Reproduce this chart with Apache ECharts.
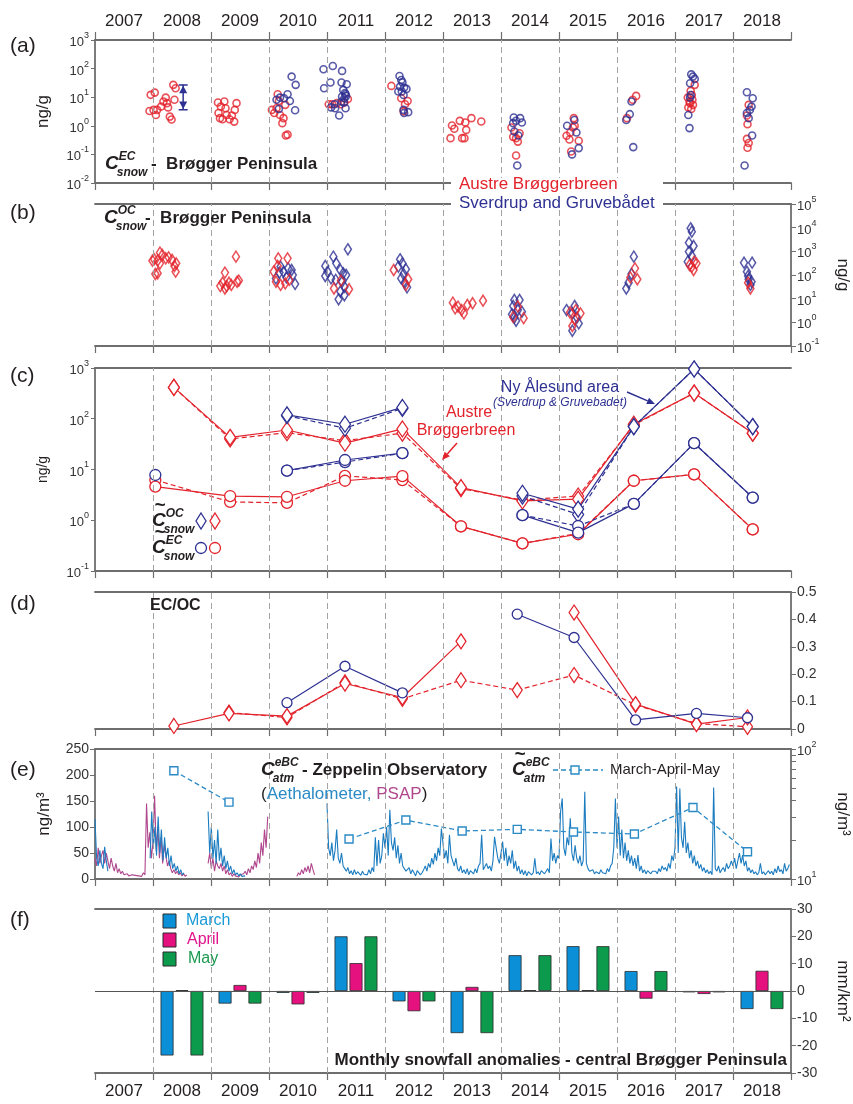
<!DOCTYPE html>
<html><head><meta charset="utf-8">
<script src="https://cdn.jsdelivr.net/npm/echarts@6/dist/echarts.min.js"></script>
<style>html,body{margin:0;padding:0;background:#fff}#c{width:853px;height:1104px}</style>
</head><body><div id="c"></div>
<script>
const FONT = "'Liberation Sans Narrow','Liberation Sans',Arial,sans-serif";
const C_RED = '#e3232c', C_BLUE = '#2e3192', C_AETH = '#1c7cc0', C_PSAP = '#b0478d', C_MAM = '#2a8ac6';
const AXIS = '#6e6e6e', TXT = '#231f20', DASH = '#a3a3a3';

// ---------- shared ----------
const years = ['2007','2008','2009','2010','2011','2012','2013','2014','2015','2016','2017','2018'];
const boundaries = [2008,2009,2010,2011,2012,2013,2014,2015,2016,2017,2018];

// ---------- (a) C_EC snow ----------
const aRed = [[2007.96,12.1],[2008.03,14.5],[2007.94,3.3],[2008.01,3.6],[2008.05,2.4],[2008.07,3.6],[2008.14,4.7],[2008.18,7.1],[2008.22,9.7],[2008.24,6.2],[2008.26,4.4],[2008.29,2.1],[2008.32,1.66],[2008.35,27],[2008.39,20.6],[2008.37,8.1],
 [2009.12,6.5],[2009.17,4.7],[2009.23,7.1],[2009.25,4.1],[2009.13,2.8],[2009.20,1.7],[2009.155,1.85],[2009.27,2.4],[2009.32,1.7],[2009.36,2.3],[2009.40,1.4],[2009.41,3.6],[2009.44,6.2],
 [2010.15,12.7],[2010.05,3.6],[2010.09,2.8],[2010.13,4.1],[2010.17,7.4],[2010.19,2.4],[2010.25,1.85],[2010.23,1.24],[2010.28,5.4],[2010.29,0.46],[2010.32,0.49],
 [2011.03,5.7],[2011.09,5.7],[2011.17,6.2],[2011.24,5.7],[2011.36,8.7],[2011.30,6.5],
 [2012.11,24.8],[2012.28,9.2],[2012.345,5.7],[2012.39,7.4],[2012.32,3.2],
 [2013.13,0.37],[2013.155,1.03],[2013.195,0.79],[2013.29,1.49],[2013.33,0.37],[2013.37,0.37],[2013.385,1.3],[2013.40,0.72],[2013.49,1.85],[2013.66,1.42],
 [2014.18,0.87],[2014.21,0.41],[2014.26,0.37],[2014.32,0.55],[2014.29,0.28],[2014.26,0.092],
 [2015.255,1.85],[2015.27,1.0],[2015.24,0.87],[2015.13,0.45],[2015.195,0.58],[2015.18,0.33],[2015.34,0.30],[2015.21,0.126],
 [2016.17,1.85],[2016.27,8.1],[2016.33,11.1],
 [2017.34,27],[2017.27,16.6],[2017.22,9.7],[2017.30,8.1],[2017.26,6.2],[2017.23,4.4],[2017.28,3.9],[2017.31,5.4],[2017.25,7],[2017.29,12],
 [2018.27,5.4],[2018.24,2.3],[2018.25,1.14],[2018.24,0.35],[2018.27,0.25],[2018.25,0.17]];
const aBlue = [[2010.13,8.1],[2010.19,9.7],[2010.26,9.2],[2010.32,12.7],[2010.36,7.4],[2010.39,52.6],[2010.46,27],[2010.17,3.9],[2010.45,3.5],
 [2010.94,95],[2011.10,124],[2011.26,83],[2011.06,32.5],[2010.95,20.6],[2011.25,32.5],[2011.34,28.4],[2011.28,18],[2011.32,12.7],[2011.30,9.2],[2011.25,7.1],[2011.13,5.7],[2011.07,4.4],[2011.14,4.1],[2011.32,4.1],[2011.21,2.3],[2011.26,10.5],[2011.31,14],[2011.33,11],[2011.29,6.5],
 [2012.25,55],[2012.28,40],[2012.30,33],[2012.33,21.7],[2012.26,23.5],[2012.23,15.8],[2012.29,15.8],[2012.37,19.5],[2012.32,12],[2012.32,3.6],[2012.40,3.0],[2012.33,2.8],
 [2014.22,1.95],[2014.33,1.85],[2014.21,1.24],[2014.36,1.3],[2014.26,1.5],[2014.23,0.63],[2014.30,0.46],[2014.28,0.041],
 [2015.14,1.0],[2015.265,1.6],[2015.30,0.58],[2015.34,0.166],[2015.225,0.10],
 [2016.16,1.6],[2016.22,2.55],[2016.25,7.1],[2016.28,0.18],
 [2017.28,63],[2017.31,52.6],[2017.26,30.8],[2017.34,43.6],[2017.27,12],[2017.26,9.7],[2017.23,2.4],[2017.25,0.83],
 [2018.24,14.9],[2018.34,9.2],[2018.32,4.7],[2018.29,3.6],[2018.24,2.8],[2018.27,1.85],[2018.33,0.46],[2018.20,0.041]];
const aRange = [[2008.52,27],[2008.52,3.6]];

// ---------- (b) C_OC snow ----------
const bRed = [[2007.99,404],[2008.04,110],[2008.08,118],[2008.12,880],[2008.16,700],[2008.12,311],[2008.22,506],[2008.27,557],[2008.33,430],[2008.37,240],[2008.40,311],[2008.39,138],[2008.08,404],[2008.02,460],
 [2009.16,34],[2009.20,47],[2009.24,126],[2009.27,34],[2009.31,47],[2009.35,38],[2009.43,596],[2009.45,52],[2009.48,58],[2009.24,27],
 [2010.08,138],[2010.16,506],[2010.32,506],[2010.12,52],[2010.20,38],[2010.28,44],[2010.35,62],[2010.15,240],
 [2011.12,27],[2011.38,25],[2011.24,58],
 [2012.15,163],[2012.40,66],[2012.36,38],
 [2013.17,6.8],[2013.21,3.9],[2013.26,4.6],[2013.32,3.3],[2013.36,2.4],[2013.42,5.4],[2013.51,6.4],[2013.69,8.2],
 [2014.29,4.7],[2014.39,1.5],[2014.21,1.7],
 [2015.19,2.6],[2015.29,3.3],[2015.37,2.4],[2015.27,1.3],[2015.23,0.7],
 [2016.23,79],[2016.31,191],[2016.35,66],
 [2017.29,225],[2017.33,366],[2017.25,263],[2017.37,311],[2017.32,163],
 [2018.30,27],[2018.26,47]];
const bBlue = [[2010.12,72],[2010.20,225],[2010.25,138],[2010.30,79],[2010.33,191],[2010.39,163],[2010.45,42],[2010.41,100],[2010.18,126],
 [2010.97,240],[2011.01,138],[2011.11,596],[2011.16,311],[2010.97,91],[2011.07,72],[2011.15,62],[2011.23,163],[2011.28,118],[2011.33,100],[2011.26,52],[2011.30,32],[2011.23,20],[2011.20,9.4],[2011.30,14],[2011.36,1216],
 [2012.26,460],[2012.30,311],[2012.23,225],[2012.36,174],[2012.32,110],[2012.28,72],[2012.34,47],[2012.38,30],
 [2014.23,8.8],[2014.32,8.8],[2014.21,4.9],[2014.29,3.3],[2014.36,2.8],[2014.23,1.6],[2014.26,1.17],[2014.19,2.2],
 [2015.13,3.3],[2015.27,4.9],[2015.23,2.4],[2015.31,1.6],[2015.34,0.9],[2015.23,0.44],
 [2016.16,27],[2016.20,47],[2016.25,110],[2016.29,596],
 [2017.27,9376],[2017.29,6800],[2017.24,2320],[2017.32,1680],[2017.24,968],[2017.29,635],[2017.22,366],
 [2018.19,332],[2018.33,332],[2018.24,138],[2018.27,66],[2018.32,52],[2018.26,91],[2018.30,38]];

// ---------- (c) medians ----------
const cXoc = [2008.36,2009.33,2010.31,2011.31,2012.30,2013.31,2014.37,2015.33,2016.29,2017.33,2018.34];
const cXec = [2008.04,2009.33,2010.31,2011.31,2012.30,2013.31,2014.37,2015.33,2016.29,2017.33,2018.34];
const cRedOC   = [415,43,60,33,63,4.4,2.4,2.6,78,320,52];
const cRedOCd  = [415,40,53,37,52,4.2,2.5,3.0,75,320,52];
const cBlueOC  = [null,null,119,78,167,null,3.4,1.66,70,955,70];
const cBlueOCd = [null,null,115,65,160,null,3.0,1.3,70,955,70];
const cRedEC   = [4.6,3.0,2.9,6.0,7.4,0.76,0.35,0.53,6.0,8.0,0.66];
const cRedECd  = [6.2,2.3,2.2,7.5,6.2,0.76,0.35,0.55,6.0,8.0,0.66];
const cBlueEC  = [7.8,null,9.5,15.4,21,null,1.26,0.57,2.1,33,2.8];
const cBlueECd = [null,null,9.5,14,21,null,1.26,0.77,2.1,33,2.8];

// ---------- (d) EC/OC ----------
const dX = [2008.36,2009.31,2010.31,2011.31,2012.30,2013.31,2014.28,2015.26,2016.32,2017.37,2018.25];
const dRed   = [0.011,0.057,0.047,0.166,0.115,0.32,null,0.425,0.091,0.018,0.042];
const dRedD  = [null,0.06,0.042,0.17,0.11,0.178,0.142,0.197,0.088,0.02,0.008];
const dBlue  = [null,null,0.096,0.229,0.132,null,0.419,0.334,0.033,0.057,0.041];

// ---------- (e) atmospheric eBC ----------
const eX   = [2008.36,2009.31,2010.3,2011.38,2012.36,2013.33,2014.28,2015.25,2016.30,2017.31,2018.25];
const eMAM = [68,39,null,20.3,28.4,23.4,24.1,23.0,22.2,35.5,16.2];
const STEP = 1/36;
const psapSegs = [
 {start:2007.0, values:[40,25,60,30, 45,55,30,50,35,20,40, 25,15,30,12,20,10,15, 8,5,10,6,4,8,5,7,4,6,9,5,12,8, 145,60,90,40, 70,160,55,100,40,80,30,65,45,25,35, 20,12,18,10,15,8,12,6,10,5,8]},
 {start:2008.95, values:[30,50,20,40,15,35,25,20,30,15,25,10,18, 8,12,5,10,6,9,4,8,6, 10,15,8,20,12,25,18,35,22,50,30,70,45,95,60,120]},
 {start:2010.48, values:[5,12,8,18,10,22,14,25,12,30,18,8]}
];
const aeth2011 = [145,60,45,70,35,55,95,40,30,50,25,20, 15,22,10,16,8,18,9,14,11,7,15,9, 12,8,18,10,22,14,80,25,75,30,45,88];
const aeth2012 = [60,100,45,133,70,55,80,40,65,30,50,25, 20,15,12,22,10,18,12,6,16,14,8,12, 18,25,15,30,22,40,28,50,35,60,45,97];
const aeth2013 = [100,40,55,30,85,45,35,25,40,20,15,25, 12,18,10,20,8,16,15,10,20,12,25,30, 85,18,15,30,20,25,15,35,81,60,40,30];
const aeth2014 = [50,72,35,60,25,45,30,55,20,35,15,25, 10,18,8,16,6,14,15,8,12,40,10,14, 8,16,18,10,15,20,12,78,35,50,30,45];
const aeth2015 = [40,130,155,60,45,80,65,117,50,35,65,40, 30,45,25,35,168,30,20,15,12,18,10,14, 14,10,18,12,15,10,20,14,25,30,60,155];
const aeth2016 = [60,120,45,95,40,70,35,55,30,45,25,40, 20,46,15,25,12,18,10,16,14,10,15,12, 15,10,20,14,25,18,22,15,30,20,45,35];
const aeth2017 = [60,178,50,174,80,60,110,50,70,40,55,30, 45,25,35,20,28,15,22,12,18,10,15,8, 176,20,15,25,12,18,22,14,30,20,25,35];
const aeth2018 = [25,40,20,35,50,30,46,25,35,15,22,12, 18,10,14,8,12,30,10,14,8,12,16,10, 15,8,20,12,25,14,18,10,30,15,20,28];
const aethSegs = [
 {start:2007.0, values:[115,40,25,55,30,20,62,35,15]},
 {start:2007.95, values:[40,130,60,100,45,120,50,95,35,80,40,60,25,45,20,30,15,25,10,18,8,12]},
 {start:2008.95, values:[130,50,100,40,75,30,95,35,60,25,45,20,35,15,25,10,18,8,12,6,10,5,8,6]},
 {start:2011.0, values:[].concat(aeth2011,aeth2012,aeth2013,aeth2014,aeth2015,aeth2016,aeth2017,aeth2018)}
];

// ---------- (f) snowfall anomalies ----------
const fMarch = [null,-23.6,-4.6,-0.7,20.0,-3.8,-15.4,13.1,16.4,7.3,-0.5,-6.6];
const fApril = [null,0.3,2.2,-4.9,10.2,-7.4,1.5,0.3,0.3,-2.8,-1.1,7.4];
const fMay   = [null,-23.6,-4.6,-0.7,20.0,-3.8,-15.4,13.1,16.4,7.3,-0.5,-6.6];

// ---------- helpers ----------
function buildSeg(segs){
  const out = [];
  segs.forEach((s,k)=>{
    if (k>0) out.push([s.start - STEP/2, null]);
    s.values.forEach((v,i)=>out.push([+(s.start + i*STEP).toFixed(4), v]));
  });
  return out;
}
const pairs = (xs, ys) => xs.map((x,i)=>[x, ys[i]]);
const supLabel = v => '{b|10}{s|' + Math.round(Math.log10(v)) + '}';
const supRich = {
  b:{fontSize:13, fontFamily:FONT, color:'#333', lineHeight:18, verticalAlign:'bottom'},
  s:{fontSize:9, fontFamily:FONT, color:'#333', lineHeight:18, verticalAlign:'top'}
};
const axLine = {show:true, onZero:false, lineStyle:{color:AXIS, width:1.8}};
function xBottom(g){ return {type:'value', gridIndex:g, min:2007, max:2019, interval:1, position:'bottom',
  axisLine:axLine, axisTick:{show:true, length:7, lineStyle:{color:AXIS, width:1.2}}, axisLabel:{show:false}, splitLine:{show:false}}; }
function xTop(g){ return {type:'value', gridIndex:g, min:2007, max:2019, interval:1, position:'top',
  axisLine:axLine, axisTick:{show:false}, axisLabel:{show:false}, splitLine:{show:false}}; }
function vlines(xi, yi, yv){
  return {type:'line', xAxisIndex:xi, yAxisIndex:yi, data:[[2007,yv]], showSymbol:false, silent:true, z:1,
    lineStyle:{opacity:0},
    markLine:{silent:true, symbol:['none','none'], label:{show:false}, animation:false,
      lineStyle:{color:DASH, type:[6,4], width:1}, emphasis:{disabled:true},
      data:boundaries.map(b=>({xAxis:b}))}};
}
function scat(xi, yi, data, color, symbol, size){
  return {type:'scatter', xAxisIndex:xi, yAxisIndex:yi, data, symbol, symbolSize:size, z:3,
    itemStyle:{color:'rgba(255,255,255,0)', borderColor:color, borderWidth:1.6}};
}
function ln(xi, yi, data, color, symbol, size, dashed){
  return {type:'line', xAxisIndex:xi, yAxisIndex:yi, data, symbol, symbolSize:size, showSymbol:true, z:3,
    connectNulls:false,
    lineStyle:{color, width:1.2, type: dashed ? [5,3] : 'solid'},
    itemStyle:{color:'#fff', borderColor:color, borderWidth:1.3}};
}
function yName(name, gap, rot, size){
  return {name, nameLocation:'middle', nameGap:gap, nameRotate:rot,
    nameTextStyle:{fontSize:size||17, fontFamily:FONT, color:TXT}};
}
function cSym(x, y, sup, sub, size, tilde){
  const f = {fontFamily:FONT, fontWeight:'bold', fontStyle:'italic', fill:TXT, verticalAlign:'middle', align:'left'};
  const s2 = Math.round(size*0.62);
  const els = [
    {type:'text', x, y, z:100, style:Object.assign({text:'C', fontSize:size}, f)},
    {type:'text', x:x+size*0.72, y:y-size*0.36, z:100, style:Object.assign({text:sup, fontSize:s2}, f)},
    {type:'text', x:x+size*0.62, y:y+size*0.46, z:100, style:Object.assign({text:sub, fontSize:s2}, f)}
  ];
  if (tilde) els.push({type:'text', x:x+size*0.12, y:y-size*0.82, z:100, style:Object.assign({text:'~', fontSize:Math.round(size*1.0)}, f)});
  return els;
}
function txt(x, y, text, opt){
  return {type:'text', x, y, z:100, style:Object.assign({text, fontFamily:FONT, fontSize:17, fill:TXT, verticalAlign:'middle', align:'left'}, opt||{})};
}
function arrow(x1,y1,x2,y2,color){
  const a = Math.atan2(y2-y1, x2-x1), L=8, W=3.5;
  const bx = x2 - L*Math.cos(a), by = y2 - L*Math.sin(a);
  return [
    {type:'line', z:100, shape:{x1,y1,x2:bx,y2:by}, style:{stroke:color, lineWidth:1.5}},
    {type:'polygon', z:100, shape:{points:[[x2,y2],[bx - W*Math.sin(a), by + W*Math.cos(a)],[bx + W*Math.sin(a), by - W*Math.cos(a)]]}, style:{fill:color}}
  ];
}
function diamond(cx, cy, w, h, color){
  return {type:'polygon', z:100, shape:{points:[[cx,cy-h/2],[cx+w/2,cy],[cx,cy+h/2],[cx-w/2,cy]]}, style:{fill:'#fff', stroke:color, lineWidth:1.3}};
}
function circ(cx, cy, r, color){
  return {type:'circle', z:100, shape:{cx,cy,r}, style:{fill:'#fff', stroke:color, lineWidth:1.3}};
}

// ---------- graphics ----------
const G = [];
[['(a)',46],['(b)',213],['(c)',376],['(d)',604],['(e)',770],['(f)',920]].forEach(p=>G.push(txt(10,p[1],p[0],{fontFamily:"'Liberation Sans',Arial,sans-serif", fontSize:21})));
G.push({type:'rect', z:99, shape:{x:451,y:178,width:212,height:14}, style:{fill:'#fff'}});
G.push({type:'rect', z:99, shape:{x:451,y:199,width:212,height:9}, style:{fill:'#fff'}});
G.push(txt(459,184,'Austre Brøggerbreen',{fill:C_RED, fontSize:17}));
G.push(txt(459,203,'Sverdrup and Gruvebådet',{fill:C_BLUE, fontSize:17}));
G.push(...cSym(105,164,'EC','snow',19));
G.push(txt(151,164,'-  Brøgger Peninsula',{fontWeight:'bold'}));
G.push(...cSym(104,218,'OC','snow',19));
G.push(txt(145,218,'-  Brøgger Peninsula',{fontWeight:'bold'}));
G.push(...cSym(152,521,'OC','snow',19,true));
G.push(diamond(201,521,10,16,C_BLUE), diamond(215,521,10,16,C_RED));
G.push(...cSym(152,548,'EC','snow',19,true));
G.push(circ(201,548,5.5,C_BLUE), circ(215,548,5.5,C_RED));
G.push(txt(560,388,'Ny Ålesund area',{fill:C_BLUE, fontSize:16, align:'center'}));
G.push(txt(560,403,'(Sverdrup & Gruvebadet)',{fill:C_BLUE, fontSize:12, fontStyle:'italic', align:'center'}));
G.push(...arrow(627,392,655,404,C_BLUE));
G.push(txt(469,413,'Austre',{fill:C_RED, fontSize:16, align:'center'}));
G.push(txt(466,431,'Brøggerbreen',{fill:C_RED, fontSize:16, align:'center'}));
G.push(...arrow(457,443,442,460,C_RED));
G.push(txt(150,606,'EC/OC',{fontWeight:'bold', fontSize:16}));
G.push(...cSym(261,770,'eBC','atm',19));
G.push(txt(302,770,'- Zeppelin Observatory',{fontWeight:'bold'}));
G.push({type:'text', x:261, y:794, z:100, style:{text:'{k|(}{a|Aethalometer, }{p|PSAP}{k|)}', verticalAlign:'middle',
  rich:{k:{fontSize:17, fontFamily:FONT, fill:TXT}, a:{fontSize:17, fontFamily:FONT, fill:C_MAM}, p:{fontSize:17, fontFamily:FONT, fill:C_PSAP}}}});
G.push(...cSym(512,770,'eBC','atm',19,true));
G.push({type:'line', z:100, shape:{x1:553,y1:770,x2:603,y2:770}, style:{stroke:C_MAM, lineWidth:1.3, lineDash:[5,3]}});
G.push({type:'rect', z:101, shape:{x:571,y:766,width:8,height:8}, style:{fill:'#fff', stroke:C_MAM, lineWidth:1.4}});
G.push(txt(610,770,'March-April-May',{fontSize:15}));
[['March','#0b8fd6','#1a9ad6',921],['April','#e5117f','#e0148c',940],['May','#0c9a4c','#1a9a50',959]].forEach((r,i)=>{
  G.push({type:'rect', z:100, shape:{x:163,y:r[3]-7,width:13,height:14}, style:{fill:r[1], stroke:'#2a2a2a', lineWidth:1}});
  G.push(txt(186+i,r[3],r[0],{fill:r[2], fontSize:16}));
});
G.push(txt(787,1060,'Monthly snowfall anomalies - central Brøgger Peninsula',{fontWeight:'bold', align:'right'}));

// ---------- option ----------
const chart = echarts.init(document.getElementById('c'), null, {renderer:'canvas'});
const gridBase = {left:95, right:62, outerBoundsMode:'none'};
const option = {
  animation:false,
  backgroundColor:'#fff',
  textStyle:{fontFamily:FONT},
  grid:[
    Object.assign({top:40, height:143}, gridBase),
    Object.assign({top:204, height:142}, gridBase),
    Object.assign({top:368, height:203}, gridBase),
    Object.assign({top:592, height:137}, gridBase),
    Object.assign({top:749, height:130}, gridBase),
    Object.assign({top:909, height:164}, gridBase)
  ],
  xAxis:[
    xBottom(0),
    {type:'category', gridIndex:0, data:years, position:'top', boundaryGap:true,
      axisLine:axLine, axisTick:{show:true, length:8, lineStyle:{color:AXIS, width:1.2}},
      axisLabel:{fontSize:17, margin:10, color:TXT, fontFamily:FONT}, splitLine:{show:false}},
    xBottom(1), xTop(1),
    xBottom(2), xTop(2),
    xBottom(3), xTop(3),
    xBottom(4), xTop(4),
    {type:'category', gridIndex:5, data:years, position:'bottom', boundaryGap:true,
      axisLine:axLine, axisTick:{show:true, length:7, lineStyle:{color:AXIS, width:1.2}},
      axisLabel:{fontSize:17, margin:10, color:TXT, fontFamily:FONT}, splitLine:{show:false}},
    xTop(5)
  ],
  yAxis:[
    Object.assign({type:'log', logBase:10, gridIndex:0, position:'left', min:0.01, max:1000, splitNumber:5,
      axisLine:axLine, axisTick:{show:true, length:4, lineStyle:{color:AXIS}},
      axisLabel:{formatter:supLabel, rich:supRich, margin:6}, splitLine:{show:false}}, yName('ng/g',43,90)),
    Object.assign({type:'log', logBase:10, gridIndex:1, position:'right', min:0.1, max:100000, splitNumber:6,
      axisLine:axLine, axisTick:{show:true, length:5, lineStyle:{color:AXIS}},
      axisLabel:{formatter:supLabel, rich:supRich, margin:6}, splitLine:{show:false}}, yName('ng/g',43,-90)),
    Object.assign({type:'log', logBase:10, gridIndex:2, position:'left', min:0.1, max:1000, splitNumber:4,
      axisLine:axLine, axisTick:{show:true, length:4, lineStyle:{color:AXIS}},
      axisLabel:{formatter:supLabel, rich:supRich, margin:6}, splitLine:{show:false}}, yName('ng/g',45,90,14)),
    {type:'value', gridIndex:3, position:'right', min:0, max:0.5, interval:0.1,
      axisLine:axLine, axisTick:{show:true, length:5, lineStyle:{color:AXIS}},
      axisLabel:{formatter:v=> v===0 ? '0' : v.toFixed(1), fontSize:14, color:'#333', margin:6}, splitLine:{show:false}},
    Object.assign({type:'value', gridIndex:4, position:'left', min:0, max:250, interval:50,
      axisLine:axLine, axisTick:{show:true, length:5, lineStyle:{color:AXIS}},
      axisLabel:{fontSize:14, color:'#333', margin:6}, splitLine:{show:false}}, yName('ng/m³',42,90)),
    Object.assign({type:'log', logBase:10, gridIndex:4, position:'right', min:10, max:100,
      axisLine:axLine, axisTick:{show:true, length:5, lineStyle:{color:AXIS}, customValues:[10,20,30,40,50,60,70,80,90,100]},
      axisLabel:{formatter:supLabel, rich:supRich, margin:6, customValues:[10,100]}, splitLine:{show:false}}, yName('ng/m³',43,-90)),
    Object.assign({type:'value', gridIndex:5, position:'right', min:-30, max:30, interval:10,
      axisLine:axLine, axisTick:{show:true, length:5, lineStyle:{color:AXIS}},
      axisLabel:{fontSize:14, color:'#333', margin:6}, splitLine:{show:false}}, yName('mm/km²',43,-90))
  ],
  series:[
    vlines(0,0,1), vlines(2,1,1), vlines(4,2,1), vlines(6,3,0), vlines(8,4,0), vlines(11,6,0),
    scat(0,0,aRed,C_RED,'circle',7),
    scat(0,0,aBlue,C_BLUE,'circle',7),
    {type:'line', xAxisIndex:0, yAxisIndex:0, z:4, lineStyle:{color:C_BLUE, width:1.5},
      symbol:'path://M0,0L10,0L10,1.6L0,1.6Z M5,1.6L9.5,10L0.5,10Z', symbolSize:[9,9],
      itemStyle:{color:C_BLUE},
      data:[{value:aRange[0], symbolRotate:0, symbolOffset:[0,4]},{value:aRange[1], symbolRotate:180, symbolOffset:[0,-4]}]},
    scat(2,1,bBlue,C_BLUE,'diamond',[7,11]),
    scat(2,1,bRed,C_RED,'diamond',[7,11]),
    ln(4,2,pairs(cXoc,cRedOCd),C_RED,'diamond',[11,16],true),
    ln(4,2,pairs(cXoc,cRedOC),C_RED,'diamond',[11,16],false),
    ln(4,2,pairs(cXoc,cBlueOCd),C_BLUE,'diamond',[11,16],true),
    ln(4,2,pairs(cXoc,cBlueOC),C_BLUE,'diamond',[11,16],false),
    ln(4,2,pairs(cXec,cRedECd),C_RED,'circle',11,true),
    ln(4,2,pairs(cXec,cRedEC),C_RED,'circle',11,false),
    ln(4,2,pairs(cXec,cBlueECd),C_BLUE,'circle',11,true),
    ln(4,2,pairs(cXec,cBlueEC),C_BLUE,'circle',11,false),
    ln(6,3,pairs(dX,dRedD),C_RED,'diamond',[10,15],true),
    ln(6,3,pairs(dX,dRed),C_RED,'diamond',[10,15],false),
    ln(6,3,pairs(dX,dBlue),C_BLUE,'circle',10,false),
    {type:'line', xAxisIndex:8, yAxisIndex:4, data:buildSeg(psapSegs), showSymbol:false, z:2, connectNulls:false,
      lineStyle:{color:C_PSAP, width:1.1}},
    {type:'line', xAxisIndex:8, yAxisIndex:4, data:buildSeg(aethSegs), showSymbol:false, z:2, connectNulls:false,
      lineStyle:{color:C_AETH, width:1.1}},
    {type:'line', xAxisIndex:8, yAxisIndex:5, data:pairs(eX,eMAM), symbol:'rect', symbolSize:8, showSymbol:true, z:4, connectNulls:false,
      lineStyle:{color:C_MAM, width:1.3, type:[5,3]}, itemStyle:{color:'#fff', borderColor:C_MAM, borderWidth:1.4}},
    {type:'bar', xAxisIndex:10, yAxisIndex:6, data:fMarch, barWidth:13, barGap:'15%', z:3,
      itemStyle:{color:'#0b8fd6', borderColor:'#2a2a2a', borderWidth:0.8},
      markLine:{silent:true, symbol:['none','none'], label:{show:false}, lineStyle:{color:'#555', type:'solid', width:1.2}, data:[{yAxis:0}]}},
    {type:'bar', xAxisIndex:10, yAxisIndex:6, data:fApril, barWidth:13, barGap:'15%', z:3,
      itemStyle:{color:'#e5117f', borderColor:'#2a2a2a', borderWidth:0.8}},
    {type:'bar', xAxisIndex:10, yAxisIndex:6, data:fMay, barWidth:13, barGap:'15%', z:3,
      itemStyle:{color:'#0c9a4c', borderColor:'#2a2a2a', borderWidth:0.8}}
  ],
  graphic:G
};
chart.setOption(option);
</script>
</body></html>
